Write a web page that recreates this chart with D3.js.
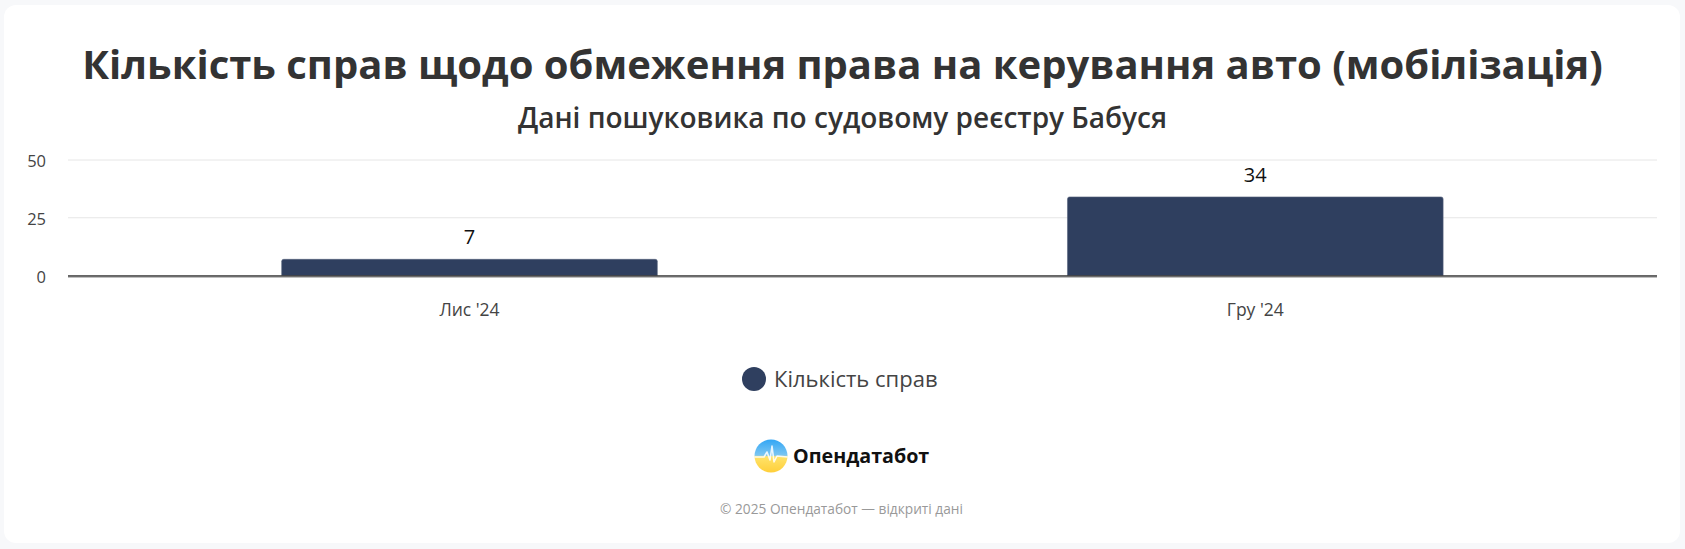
<!DOCTYPE html>
<html>
<head>
<meta charset="utf-8">
<script src="https://cdn.jsdelivr.net/npm/d3@7"></script>
<style>
  html, body { margin: 0; padding: 0; background: #f7f8fa; }
  svg { display: block; font-family: "Open Sans", "Noto Sans", sans-serif; }
</style>
</head>
<body>
<svg id="chart" width="1685" height="549"></svg>
<script>
const title = "Кількість справ щодо обмеження права на керування авто (мобілізація)";
const subtitle = "Дані пошуковика по судовому реєстру Бабуся";
const categories = ["Лис '24", "Гру '24"];
const seriesName = "Кількість справ";
const values = [7, 34];
const yTicks = [0, 25, 50];
const brand = "Опендатабот";
const footer = "© 2025 Опендатабот — відкриті дані";

const W = 1685, H = 549;
const svg = d3.select("#chart");

// card
svg.append("rect").attr("x", 4).attr("y", 5).attr("width", W - 9).attr("height", H - 11)
  .attr("rx", 12).attr("fill", "#ffffff");

// titles
svg.append("text").attr("x", W / 2).attr("y", 79).attr("text-anchor", "middle")
  .attr("font-size", 40).attr("font-weight", 700).attr("fill", "#333333").text(title);
svg.append("text").attr("x", W / 2).attr("y", 128).attr("text-anchor", "middle")
  .attr("font-size", 28).attr("font-weight", 600).attr("fill", "#333333").text(subtitle);

// scales
const plotLeft = 68, plotRight = 1657;
const y = d3.scaleLinear().domain([0, 50]).range([275.5, 160]);
const x = d3.scaleBand().domain(categories).range([76.6, 1648.2]).padding(0);
const barW = x.bandwidth() * 0.478;

// gridlines
svg.append("g").selectAll("line").data(yTicks.filter(t => t !== 0)).join("line")
  .attr("x1", plotLeft).attr("x2", plotRight)
  .attr("y1", d => y(d)).attr("y2", d => y(d))
  .attr("stroke", "#e6e6e6").attr("stroke-width", 1);

// y axis labels
const yAxis = d3.axisLeft(y).tickValues(yTicks).tickSize(0).tickPadding(0);
const gy = svg.append("g").attr("transform", `translate(46,0)`).call(yAxis);
gy.select(".domain").remove();
gy.selectAll("text").attr("font-size", 16.5).attr("fill", "#444444")
  .attr("font-family", "\"Open Sans\", \"Noto Sans\", sans-serif").attr("dy", "0.4em");

// bars
const barPath = (d, i) => {
  const x0 = x(categories[i]) + (x.bandwidth() - barW) / 2;
  const x1 = x0 + barW, y0 = y(0), y1 = y(d), r = 2;
  return `M${x0},${y0}V${y1 + r}Q${x0},${y1} ${x0 + r},${y1}H${x1 - r}Q${x1},${y1} ${x1},${y1 + r}V${y0}Z`;
};
svg.append("g").selectAll("path").data(values).join("path")
  .attr("d", barPath).attr("fill", "#2f3f5f").attr("stroke", "#56627a").attr("stroke-width", 0.6);

// data labels
svg.append("g").selectAll("text").data(values).join("text")
  .attr("x", (d, i) => x(categories[i]) + x.bandwidth() / 2)
  .attr("y", d => y(d) - 15)
  .attr("text-anchor", "middle").attr("font-size", 20).attr("font-weight", 500)
  .attr("fill", "#111111").text(d => d);

// baseline
svg.append("line").attr("x1", plotLeft).attr("x2", plotRight)
  .attr("y1", y(0) + 0.5).attr("y2", y(0) + 0.5).attr("stroke", "#333333").attr("stroke-width", 1.5);
svg.append("line").attr("x1", plotLeft).attr("x2", plotRight)
  .attr("y1", y(0) + 1.8).attr("y2", y(0) + 1.8).attr("stroke", "#9a9a9a").attr("stroke-width", 0.8);

// x axis labels
const xAxis = d3.axisBottom(x).tickSize(0).tickPadding(0);
const gx = svg.append("g").attr("transform", `translate(0,316)`).call(xAxis);
gx.select(".domain").remove();
gx.selectAll("text").attr("font-size", 17.5).attr("fill", "#444444").attr("dy", 0)
  .attr("font-family", "\"Open Sans\", \"Noto Sans\", sans-serif");

// legend
const lg = svg.append("g");
lg.append("circle").attr("cx", 754).attr("cy", 379).attr("r", 12).attr("fill", "#2f3f5f");
lg.append("text").attr("x", 774).attr("y", 387).attr("font-size", 22).attr("fill", "#444444").text(seriesName);

// logo
const defs = svg.append("defs");
const grad = defs.append("linearGradient").attr("id", "lgrad").attr("x1", 0).attr("y1", 0).attr("x2", 0).attr("y2", 1);
grad.append("stop").attr("offset", "0%").attr("stop-color", "#32a6f5");
grad.append("stop").attr("offset", "48%").attr("stop-color", "#7cc6f2");
grad.append("stop").attr("offset", "52%").attr("stop-color", "#ffe36a");
grad.append("stop").attr("offset", "100%").attr("stop-color", "#ffcf3a");
const cx = 771, cy = 456, r = 16.5;
svg.append("circle").attr("cx", cx).attr("cy", cy).attr("r", r).attr("fill", "url(#lgrad)");
svg.append("path")
  .attr("d", `M${cx - r},${cy + 1} L${cx - 7},${cy + 1} L${cx - 4},${cy - 4} L${cx - 1},${cy + 4} L${cx + 1},${cy - 10} L${cx + 3},${cy + 6} L${cx + 6},${cy} L${cx + r},${cy + 1}`)
  .attr("fill", "none").attr("stroke", "#ffffff").attr("stroke-width", 1.6).attr("stroke-linejoin", "round").attr("opacity", 0.85);
svg.append("text").attr("x", 793).attr("y", 463).attr("font-size", 19.7).attr("font-weight", 700)
  .attr("fill", "#111111").text(brand);

// footer
svg.append("text").attr("x", 841.5).attr("y", 514).attr("text-anchor", "middle")
  .attr("font-size", 13.7).attr("fill", "#999999").text(footer);
</script>
</body>
</html>
